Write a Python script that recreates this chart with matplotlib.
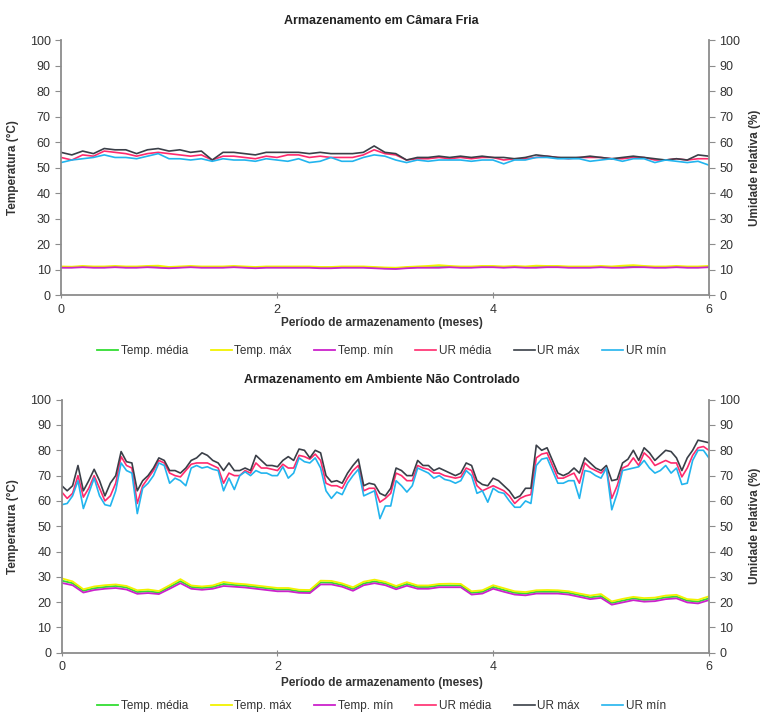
import numpy as np
import matplotlib
matplotlib.use('Agg')
import matplotlib.pyplot as plt

plt.rcParams['font.family'] = ['Liberation Sans', 'DejaVu Sans']

# x positions (months)
meses = np.round(np.arange(0, 6.001, 0.1), 2)
meses_ur = np.round(np.arange(0, 6.001, 0.05), 2)

# --- Câmara Fria (top) ---
tmed_t = [11, 11, 11.2, 11, 11, 11.2, 11, 11, 11.2, 11,
          10.8, 11, 11.2, 11, 11, 11, 11.2, 11, 10.8, 11,
          11, 11, 11, 11, 10.8, 10.8, 11, 11, 11, 10.8,
          10.6, 10.5, 10.8, 11, 11, 11, 11.2, 11, 11, 11.2,
          11.2, 11, 11.2, 11, 11, 11.2, 11.2, 11, 11, 11,
          11.2, 11, 11, 11.2, 11.2, 11, 11, 11.2, 11, 11, 11.2]
tmax_t = [11.3, 11.2, 11.5, 11.3, 11.3, 11.5, 11.3, 11.3, 11.5, 11.6,
          11.1, 11.3, 11.5, 11.3, 11.3, 11.3, 11.5, 11.3, 11.1, 11.3,
          11.3, 11.3, 11.3, 11.3, 11.1, 11.1, 11.3, 11.3, 11.3, 11.1,
          10.9, 10.8, 11.1, 11.3, 11.5, 11.8, 11.5, 11.3, 11.3, 11.5,
          11.5, 11.3, 11.5, 11.3, 11.6, 11.5, 11.5, 11.3, 11.3, 11.3,
          11.5, 11.3, 11.6, 11.8, 11.5, 11.3, 11.3, 11.5, 11.3, 11.3, 11.5]
tmin_t = [10.8, 10.8, 11, 10.8, 10.8, 11, 10.8, 10.8, 11, 10.8,
          10.6, 10.8, 11, 10.8, 10.8, 10.8, 11, 10.8, 10.6, 10.8,
          10.8, 10.8, 10.8, 10.8, 10.6, 10.6, 10.8, 10.8, 10.8, 10.6,
          10.4, 10.3, 10.6, 10.8, 10.8, 10.8, 11, 10.8, 10.8, 11,
          11, 10.8, 11, 10.8, 10.8, 11, 11, 10.8, 10.8, 10.8,
          11, 10.8, 10.8, 11, 11, 10.8, 10.8, 11, 10.8, 10.8, 11]
urmed_t = [54, 53, 55, 54.5, 56.5, 56, 55.5, 54.5, 55.5, 56,
           55.5, 55, 54.5, 55, 53, 54.5, 54.5, 54, 53.5, 54.5,
           54, 55, 55, 54, 54.5, 54, 54, 54, 55, 57,
           55.5, 55, 53, 53.5, 53.5, 54, 53.5, 54, 53.5, 54,
           54, 53, 53.5, 53.5, 54, 54.5, 54, 53.5, 54, 54,
           54, 53.5, 53.5, 54, 54, 53, 53, 53.5, 53, 53.5, 53.5]
urmax_t = [56, 55, 56.5, 55.5, 57.5, 57, 57, 55.5, 57, 57.5,
           56.5, 57, 56, 56.5, 53, 56, 56, 55.5, 55, 56,
           56, 56, 56, 55.5, 56, 55.5, 55.5, 55.5, 56, 58.5,
           56, 55.5, 53, 54, 54, 54.5, 54, 54.5, 54, 54.5,
           54, 54, 53.5, 54, 55, 54.5, 54, 54, 54, 54.5,
           54, 53.5, 54, 54.5, 54, 53.5, 53, 53.5, 53, 55, 54.5]
urmin_t = [52, 53, 53.5, 54, 55, 54, 54, 53.5, 54.5, 55.5,
           53.5, 53.5, 53, 53.5, 52.5, 53.5, 53, 53, 52.5, 53.5,
           53, 52.5, 53.5, 52, 52.5, 54, 52.5, 52.5, 54, 55,
           54.5, 53, 52, 53, 52.5, 53, 53, 53, 52.5, 53,
           53, 51.5, 53, 53, 54, 54, 53.5, 53.5, 53.5, 52.5,
           53, 53.5, 52.5, 53.5, 53.5, 52, 53, 52.5, 52, 52.5, 51]

# --- Ambiente Não Controlado (bottom) ---
tmed_b = [28.5, 27.5, 24.5, 25.5, 26, 26.4, 25.8, 24, 24.3, 23.8,
          26, 28.3, 26, 25.6, 26, 27.2, 26.8, 26.5, 26, 25.5,
          25, 25, 24.3, 24.2, 27.8, 27.7, 26.8, 25.2, 27.4, 28.2,
          27.4, 25.8, 27.2, 26, 26, 26.6, 26.6, 26.6, 23.7, 24.1,
          26, 24.8, 23.7, 23.4, 24.1, 24.1, 24.1, 23.7, 22.8, 21.9,
          22.4, 19.7, 20.6, 21.5, 20.9, 21.1, 21.9, 22.2, 20.6, 20.2, 21.5]
tmax_b = [29.4, 28.2, 25.1, 26.2, 26.7, 27, 26.4, 24.7, 25, 24.4,
          26.7, 29.1, 26.6, 26.2, 26.6, 28, 27.4, 27.1, 26.6, 26.1,
          25.6, 25.6, 24.9, 24.8, 28.5, 28.4, 27.4, 25.9, 28.1, 28.9,
          28, 26.4, 27.9, 26.6, 26.6, 27.2, 27.3, 27.2, 24.3, 24.7,
          26.7, 25.5, 24.3, 24, 24.7, 24.8, 24.7, 24.3, 23.4, 22.6,
          23.2, 20.3, 21.3, 22.1, 21.6, 21.8, 22.6, 22.9, 21.2, 20.9, 22.3]
tmin_b = [27.6, 26.7, 23.8, 24.8, 25.3, 25.6, 25, 23.3, 23.6, 23.2,
          25.3, 27.5, 25.3, 24.9, 25.3, 26.4, 26.1, 25.8, 25.3, 24.8,
          24.3, 24.3, 23.7, 23.6, 27, 27, 26.1, 24.5, 26.7, 27.5,
          26.7, 25.1, 26.5, 25.3, 25.3, 25.9, 25.9, 25.9, 23, 23.4,
          25.3, 24.1, 23, 22.7, 23.4, 23.4, 23.4, 23, 22.1, 21.2,
          21.7, 19, 19.9, 20.8, 20.2, 20.4, 21.2, 21.5, 19.9, 19.5, 20.8]
urmax_b = [66, 64, 66, 74, 64, 68, 72.5, 68, 62, 67,
           70, 79.5, 75.5, 75, 64, 68, 70, 73, 77, 76,
           72, 72, 71, 73, 76, 77, 79, 78, 76, 75,
           72, 75, 72, 72, 73, 72, 78, 76, 74, 74,
           73.5, 76, 77.5, 76, 80.5, 80, 77, 80, 79, 70,
           67.5, 68, 67, 71, 74, 76.5, 66, 67, 66.5, 63,
           62, 65, 73, 72, 70, 70, 76, 74, 74, 72,
           73, 72, 71, 70, 71, 75, 74, 68, 66.5, 66,
           69, 68, 66, 64, 61, 62, 65, 65, 82, 80,
           81, 76, 71, 70, 71, 73, 71, 77, 75, 73,
           72, 74, 68, 68.5, 75, 76.5, 80, 76, 81, 79,
           76, 78, 80, 79.5, 77, 72, 77, 80, 84, 83.5, 83]
urmed_b = [63.5, 61, 63, 70, 61.5, 65, 70, 65, 60, 62,
           67, 77.5, 74, 73, 59, 66, 69, 72, 76, 75,
           71, 70, 69.5, 72, 74.5, 75, 75, 75, 74, 73,
           67, 71, 70, 70, 72, 71, 75, 73, 73, 72.5,
           72, 74.5, 73, 73, 78, 77.5, 76.5, 78.5, 76, 67,
           66, 66, 65, 69, 72, 74, 64, 65, 65, 59.5,
           61, 63, 71, 70, 68, 68, 74, 73, 72.5, 71,
           71, 70, 69.5, 69, 69.5, 73, 72, 66, 64, 65,
           66, 65, 64, 62, 59, 61, 62, 62.5, 77, 78.5,
           79, 74, 69, 69, 70, 71, 67, 75, 73, 72,
           71, 73, 61, 66, 73, 74, 77, 74, 79, 77,
           74, 75, 76, 75, 75, 69.5, 73, 78, 81, 81.5, 80]
urmin_b = [58.5, 59, 62, 68, 57, 63, 69, 62, 58.5, 58,
           64, 75, 72, 71, 55, 65, 67, 70, 75, 74,
           67, 69, 68, 66, 73, 74, 73, 73.5, 72.5, 72,
           64, 69, 64.5, 70, 71.5, 70, 72, 71, 71, 70,
           70, 73.5, 69, 71, 77, 75.5, 75, 77, 73, 64,
           61, 63.5, 62.5, 67, 70, 72.5, 62, 63, 64, 53,
           58, 58, 68, 66, 63.5, 66, 73, 72, 71, 69,
           70, 68.5, 68, 67, 68, 72, 70, 63, 64, 59.5,
           65, 63.5, 63, 60, 57.5, 57.5, 60, 59, 74, 76.5,
           77, 72, 67, 67, 68, 68, 61, 72, 71.5, 70,
           69, 73, 56.5, 63, 72, 72.5, 73, 73.5, 76, 73,
           71, 72, 74, 71, 73, 66.5, 67, 76, 80, 80, 77]

cores = {'Temp. média': '#33dd33', 'Temp. máx': '#f2f200', 'Temp. mín': '#cc22cc',
         'UR média': '#ff2a6d', 'UR máx': '#3a3f48', 'UR mín': '#22b4ee'}
axis_col = '#8c8c8c'
txt_col = '#333333'


def painel(rect, titulo, series_t, series_ur, title_y, xlabel_y, leg_y):
    ax = fig.add_axes(rect)
    for nome, vals in series_t:
        ax.plot(meses, vals, color=cores[nome], lw=1.3, label=nome)
    for nome, vals in series_ur:
        ax.plot(meses_ur if len(vals) == len(meses_ur) else meses, vals,
                color=cores[nome], lw=1.2, label=nome)
    ax.set_xlim(0, 6)
    ax.set_ylim(0, 100)
    ax.set_xticks([0, 2, 4, 6])
    ax.set_yticks(range(0, 101, 10))
    ax.set_ylabel('Temperatura (°C)', fontsize=8.5, fontweight='bold', color=txt_col, labelpad=8)
    ax.spines['top'].set_visible(False)
    ax.spines['right'].set_visible(False)
    for s in ['left', 'bottom']:
        ax.spines[s].set_color(axis_col)
        ax.spines[s].set_linewidth(1.3)
    ax.tick_params(axis='y', direction='out', length=4, color=axis_col, labelsize=9, labelcolor=txt_col)
    ax.tick_params(axis='x', direction='inout', length=5, color=axis_col, labelsize=9, labelcolor=txt_col)

    ax2 = ax.twinx()
    ax2.set_ylim(0, 100)
    ax2.set_yticks(range(0, 101, 10))
    ax2.set_ylabel('Umidade relativa (%)', fontsize=8.5, fontweight='bold', color=txt_col, labelpad=6)
    for s in ['top', 'left', 'bottom']:
        ax2.spines[s].set_visible(False)
    ax2.spines['right'].set_color(axis_col)
    ax2.spines['right'].set_linewidth(1.3)
    ax2.tick_params(axis='y', direction='out', length=4, color=axis_col, labelsize=9, labelcolor=txt_col)

    fig.text(0.5, title_y, titulo, ha='center', va='center', fontsize=9, fontweight='bold', color='#222222')
    fig.text(0.5, xlabel_y, 'Período de armazenamento (meses)', ha='center', va='center',
             fontsize=8.5, fontweight='bold', color=txt_col)
    h, l = ax.get_legend_handles_labels()
    fig.legend(h, l, loc='center', bbox_to_anchor=(0.5, leg_y), ncol=6, frameon=False,
               fontsize=8.5, handlelength=1.8, handletextpad=0.2, columnspacing=1.9,
               labelcolor=txt_col)
    return ax


fig = plt.figure(figsize=(7.63, 7.15), dpi=100)

painel([0.080, 0.587, 0.849, 0.357], 'Armazenamento em Câmara Fria',
       [('Temp. média', tmed_t), ('Temp. máx', tmax_t), ('Temp. mín', tmin_t)],
       [('UR média', urmed_t), ('UR máx', urmax_t), ('UR mín', urmin_t)],
       0.971, 0.548, 0.509)

painel([0.081, 0.087, 0.848, 0.354], 'Armazenamento em Ambiente Não Controlado',
       [('Temp. média', tmed_b), ('Temp. máx', tmax_b), ('Temp. mín', tmin_b)],
       [('UR média', urmed_b), ('UR máx', urmax_b), ('UR mín', urmin_b)],
       0.469, 0.045, 0.013)

fig.savefig('out.png', dpi=100)
